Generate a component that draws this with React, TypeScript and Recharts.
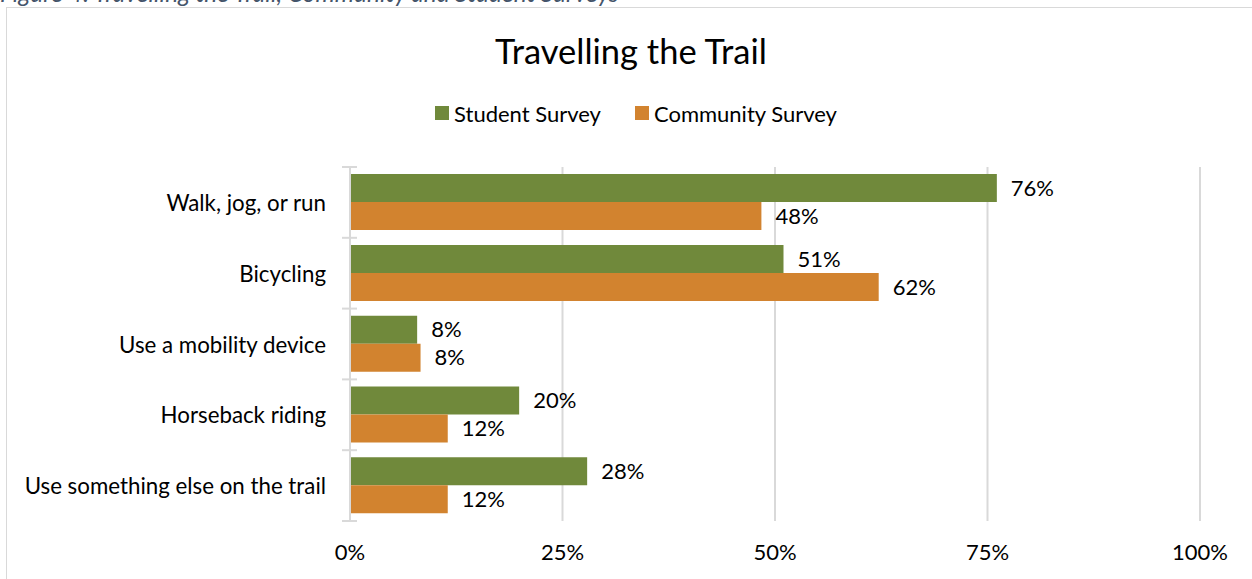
import React from "react";
import {
  BarChart,
  Bar,
  XAxis,
  YAxis,
  CartesianGrid,
  Legend,
  LabelList,
} from "recharts";

const categories = [
  "Walk, jog, or run",
  "Bicycling",
  "Use a mobility device",
  "Horseback riding",
  "Use something else on the trail",
];
const studentValues = [76.1, 51.0, 7.9, 19.9, 27.9];
const communityValues = [48.4, 62.2, 8.3, 11.5, 11.5];
const xTicks = [0, 25, 50, 75, 100];
const seriesNames = ["Student Survey", "Community Survey"];
const seriesColors = ["#70893B", "#D2832F"];
const chartTitle = "Travelling the Trail";
const captionText = "Figure 4: Travelling the Trail, Community and Student Surveys";

const data = categories.map((c, i) => ({
  name: c,
  student: studentValues[i],
  community: communityValues[i],
}));

const FONT = "Lato, 'Noto Sans', sans-serif";
const GRID = "#D9D9D9";

const pct = (v: any) => `${Math.round(Number(v))}%`;

const CategoryTick = (props: any) => {
  const { x, y, payload, index, visibleTicksCount } = props;
  const half = payload && typeof payload.offset === "number" ? payload.offset : 0;
  const ax = x + 24;
  return (
    <g>
      <text
        x={x}
        y={y}
        textAnchor="end"
        dominantBaseline="central"
        fontSize={22.3}
        fontFamily={FONT}
        fill="#000"
      >
        {payload.value}
      </text>
      <line x1={ax - 8} x2={ax + 7} y1={y - half} y2={y - half} stroke={GRID} strokeWidth={2} />
      {index === visibleTicksCount - 1 && (
        <line x1={ax - 8} x2={ax + 7} y1={y + half} y2={y + half} stroke={GRID} strokeWidth={2} />
      )}
    </g>
  );
};

const LegendContent = () => (
  <div
    style={{
      display: "flex",
      justifyContent: "center",
      alignItems: "center",
      fontFamily: FONT,
      fontSize: 22,
      color: "#000",
      height: 30,
    }}
  >
    {seriesNames.map((n, i) => (
      <div key={n} style={{ display: "flex", alignItems: "center", marginRight: i === 0 ? 34 : 0 }}>
        <span
          style={{
            display: "inline-block",
            width: 14,
            height: 14,
            background: seriesColors[i],
            marginRight: 5,
          }}
        />
        <span>{n}</span>
      </div>
    ))}
  </div>
);

export default function App() {
  return (
    <div
      style={{
        position: "fixed",
        left: 0,
        top: 0,
        width: 1252,
        height: 579,
        overflow: "hidden",
        background: "#fff",
      }}
    >
      <div
        style={{
          position: "absolute",
          left: 0,
          top: -22,
          fontFamily: FONT,
          fontStyle: "italic",
          fontSize: 24.5,
          lineHeight: "30px",
          color: "#44546A",
          whiteSpace: "nowrap",
        }}
      >
        {captionText}
      </div>
      <div
        style={{
          position: "absolute",
          left: 6,
          top: 7,
          width: 1400,
          height: 700,
          border: `1px solid ${GRID}`,
          boxSizing: "border-box",
        }}
      />
      <div
        style={{
          position: "absolute",
          left: 0,
          width: 1262,
          top: 29,
          textAlign: "center",
          fontFamily: FONT,
          fontSize: 34.5,
          lineHeight: "44px",
          color: "#000",
        }}
      >
        {chartTitle}
      </div>
      <div style={{ position: "absolute", left: 0, top: 0 }}>
        <BarChart
          width={1252}
          height={579}
          data={data}
          layout="vertical"
          margin={{ top: 167, right: 52, bottom: 28, left: 20 }}
          barCategoryGap="10%"
          barGap={0}
        >
          <CartesianGrid horizontal={false} stroke={GRID} strokeWidth={2} />
          <XAxis
            type="number"
            domain={[0, 100]}
            ticks={xTicks}
            tickFormatter={(v) => `${v}%`}
            axisLine={false}
            tickLine={false}
            tickSize={0}
            tickMargin={23}
            height={30}
            tick={{ fontSize: 22, fontFamily: FONT, fill: "#000" }}
          />
          <YAxis
            type="category"
            dataKey="name"
            width={330}
            axisLine={{ stroke: GRID, strokeWidth: 2 }}
            tickLine={false}
            tickSize={0}
            tickMargin={24}
            tick={<CategoryTick />}
            interval={0}
          />
          <Legend
            layout="horizontal"
            verticalAlign="middle"
            align="center"
            wrapperStyle={{ position: "absolute", top: 98, left: 5, width: 1262, height: 30 }}
            content={<LegendContent />}
          />
          <Bar dataKey="student" name={seriesNames[0]} fill={seriesColors[0]} isAnimationActive={false}>
            <LabelList
              dataKey="student"
              position="right"
              offset={14}
              formatter={pct}
              style={{ fontSize: 22, fontFamily: FONT, fill: "#000" }}
            />
          </Bar>
          <Bar dataKey="community" name={seriesNames[1]} fill={seriesColors[1]} isAnimationActive={false}>
            <LabelList
              dataKey="community"
              position="right"
              offset={14}
              formatter={pct}
              style={{ fontSize: 22, fontFamily: FONT, fill: "#000" }}
            />
          </Bar>
        </BarChart>
      </div>
    </div>
  );
}
